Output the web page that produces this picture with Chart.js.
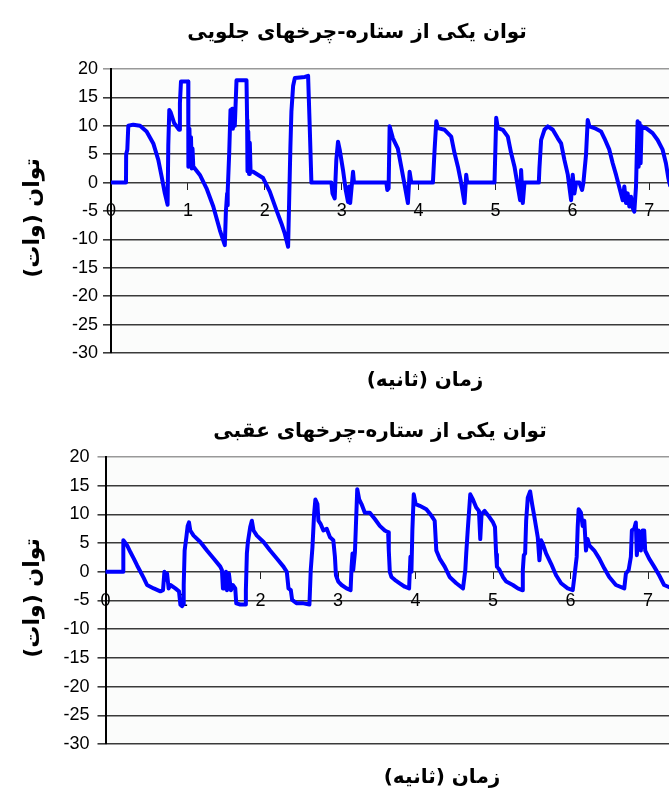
<!DOCTYPE html>
<html><head><meta charset="utf-8">
<script src="https://cdn.jsdelivr.net/npm/chart.js@4.4.1/dist/chart.umd.min.js"></script>
<style>
html,body{margin:0;padding:0;background:#fff;overflow:hidden;}
#wrap{position:relative;width:669px;height:792px;}
canvas{position:absolute;left:0;}
</style></head><body>
<div id="wrap">
<canvas id="c1" width="669" height="396" style="top:0"></canvas>
<canvas id="c2" width="669" height="396" style="top:396px"></canvas>
</div>
<script>
// ---- data ----
const xTicks = [0, 1, 2, 3, 4, 5, 6, 7];
const yTicks = [20, 15, 10, 5, 0, -5, -10, -15, -20, -25, -30];

const titleFront = 'توان یکی از ستاره-چرخهای جلویی';
const titleRear = 'توان یکی از ستاره-چرخهای عقبی';
const yAxisTitle = 'توان (وات)';
const xAxisTitle = 'زمان (ثانیه)';

const frontTime = [0,0.195,0.197,0.212,0.225,0.29,0.377,0.463,0.55,0.615,
  0.658,0.70,0.736,0.745,0.758,0.775,0.82,0.885,0.896,0.91,
  1.004,1.006,1.02,1.03,1.04,1.05,1.06,1.07,1.09,1.156,
  1.242,1.33,1.416,1.48,1.494,1.51,1.515,1.52,1.537,1.554,
  1.565,1.575,1.585,1.60,1.61,1.632,1.762,1.77,1.775,1.785,
  1.795,1.805,1.815,1.848,1.978,2.065,2.15,2.216,2.26,2.303,
  2.316,2.333,2.346,2.368,2.39,2.52,2.563,2.584,2.606,
  2.866,2.88,2.909,2.93,2.952,2.974,3.017,3.052,3.082,3.095,3.11,3.147,3.16,
  3.58,3.593,3.61,3.623,3.666,3.73,3.774,3.818,3.861,3.883,3.905,
  4.186,4.208,4.23,4.251,4.338,4.424,4.467,4.511,4.554,4.597,4.619,4.632,
  4.987,5.009,5.03,5.095,5.16,5.203,5.247,5.29,5.32,5.333,5.355,5.377,
  5.563,5.571,5.593,5.636,5.68,5.745,5.81,5.853,5.896,5.94,5.983,6.004,6.026,6.048,
  6.09,6.126,6.143,6.177,6.199,6.221,6.286,6.372,6.416,6.48,
  6.524,6.567,6.619,6.654,6.675,6.697,6.719,6.74,6.762,6.784,
  6.805,6.827,6.848,6.861,6.874,6.887,6.9,6.913,6.957,7.043,
  7.108,7.173,7.216,7.247,7.27];
const frontPower = [0,0,5,5.8,10,10.2,10,9,6.9,4,
  1.1,-1.9,-3.9,6.6,12.8,12.4,10.5,9.3,14,17.8,
  17.8,2.8,9.5,3,8,2.5,6,2.8,2.5,1.35,
  -1,-4.2,-8.4,-11,-5.1,-1.9,-4,-1.5,5.2,12.8,
  10.5,13,9.5,12,10,18,18,11,2,9,
  1.5,7,2,1.9,0.8,-1.6,-4.8,-7.2,-9,-11.3,
  -3.6,6.4,12.5,17,18.4,18.6,18.8,9.9,0,
  0,-1.9,-2.8,4,7.2,5.8,2.2,-1.3,-3.4,-0.7,-3.6,1.9,0,
  0,-1.3,-1,9.9,7.8,6,2.8,-0.4,-3.6,1.9,0,
  0,5.8,10.8,9.6,9.3,8.1,5.2,2.8,-0.1,-3.6,1.4,0,
  0,11.4,9.6,9.3,8.1,5.2,2.8,-0.7,-3.1,2.2,-3.6,0,
  0,2.5,7.5,9.3,9.9,9.3,7.8,6.9,4,1.4,-3.1,1.4,-1.9,0,
  0,-1.3,0,4.9,11,9.9,9.6,9,7.8,5.8,
  3.4,1.4,-1.3,-3.1,-0.7,-3.6,-1.9,-4.2,-2.5,-4.5,
  -5.1,-0.7,10.8,2.8,10.5,3.4,9.9,9.6,9.6,8.7,
  7.5,5.8,3.4,0.8,-0.5];

const rearTime = [0,0.227,0.23,0.279,0.322,0.365,0.408,0.451,0.494,0.536,
  0.622,0.708,0.742,0.76,0.777,0.794,0.815,0.837,0.901,0.948,
  0.966,0.987,1.0,1.009,1.021,1.043,1.06,1.077,1.094,1.137,
  1.223,1.309,1.395,1.481,1.502,1.515,1.532,1.554,1.567,1.592,
  1.618,1.644,1.674,1.687,1.738,1.803,1.811,1.824,1.837,1.867,
  1.888,1.91,1.953,2.039,2.124,2.21,2.296,2.339,2.361,2.391,
  2.408,2.468,2.554,2.631,2.648,2.67,2.691,2.708,2.734,2.747,
  2.777,2.811,2.854,2.897,
  2.939,2.96,2.973,3.003,3.046,3.11,3.162,3.175,3.187,3.196,
  3.218,3.23,3.248,3.273,3.303,3.346,3.41,3.475,3.539,3.603,
  3.646,3.655,3.668,3.689,3.732,3.796,3.861,3.917,3.934,3.947,
  3.959,3.977,4.002,4.054,4.139,4.204,4.247,4.268,4.311,4.376,
  4.44,4.526,4.612,4.642,4.654,4.676,4.706,4.74,4.783,4.818,
  4.835,4.852,4.891,4.955,5.0,5.025,5.04,5.05,
  5.084,5.127,5.17,5.255,5.32,5.375,5.384,5.397,5.414,5.427,
  5.448,5.478,5.504,5.534,5.577,5.598,5.62,5.641,5.684,5.749,
  5.813,5.878,5.963,6.028,6.049,6.079,6.092,6.104,6.134,6.156,
  6.177,6.199,6.22,6.242,6.306,6.371,6.435,6.499,6.585,6.693,
  6.714,6.749,6.778,6.791,6.821,6.842,6.855,6.877,6.907,6.928,
  6.95,6.963,7.014,7.078,7.143,7.207,7.259,7.28];
const rearPower = [0,0,5.5,4.6,3.4,2.3,1.1,0,-1.1,-2.3,
  -2.9,-3.4,-3.2,0,-1.4,-0.3,-2.9,-2.3,-2.9,-3.4,
  -5.7,-6,-5.7,-2.3,3.7,6,8,8.6,7.2,6.3,
  5.2,3.7,2.3,0.9,0.3,-2.9,-2.9,0,-3.2,-0.3,
  -3.2,-2.3,-2.9,-5.5,-5.7,-5.7,-3.2,3.2,5.2,7.8,
  8.9,7.2,6.3,5.2,3.7,2.3,0.9,0,-2.9,-3.2,
  -4.9,-5.5,-5.5,-5.7,0.3,4.3,10,12.6,11.8,8.9,
  8.3,7.2,7.5,6,
  5.5,2.6,-0.6,-1.7,-2.3,-2.9,-3.2,0.9,3.2,0.3,
  3.4,7.8,14.4,12.6,11.8,10.3,10.3,9.2,8,7.2,
  6.9,3.7,0,-0.9,-1.4,-2,-2.6,-2.9,2.6,0,
  7.2,13.5,11.8,11.5,10.9,9.8,8.9,3.7,2.3,0.9,
  -0.9,-2,-2.9,0.3,3.2,7.8,13.5,12.6,11.2,10.6,
  5.7,10.1,10.6,9.5,8.6,7.8,3,0.9,
  0.3,-0.9,-1.7,-2.3,-2.9,-3.2,0.3,2.9,3.2,8.9,
  12.9,14,11.8,9.5,6,2,5.5,4.9,3.2,1.4,
  -0.6,-2,-2.9,-3.2,-0.9,2.6,7.8,10.9,10.3,8,
  8.9,3.7,5.7,4.6,3.7,2.3,0.6,-0.9,-2.3,-2.9,
  -0.3,0.3,2.6,7.2,7.5,8.6,2.9,7.2,3.7,7.2,
  7.2,3.7,2.3,0.9,-0.6,-2.3,-2.6,-2.7];

// ---- helpers ----
const TICK_FONT = { family: 'Liberation Sans, Arial, sans-serif', size: 18 };

function textPlugin(items) {
  return {
    id: 'persianTexts',
    afterDraw(chart) {
      const ctx = chart.ctx;
      items.forEach(it => {
        ctx.save();
        ctx.font = it.font;
        ctx.fillStyle = '#000';
        ctx.direction = 'rtl';
        ctx.textAlign = 'center';
        ctx.textBaseline = 'middle';
        ctx.translate(it.x, it.y);
        if (it.rot) ctx.rotate(it.rot);
        ctx.fillText(it.text, 0, 0);
        ctx.restore();
      });
    }
  };
}

const bgPlugin = {
  id: 'plotBg',
  beforeDraw(chart) {
    const a = chart.chartArea, ctx = chart.ctx;
    ctx.save();
    ctx.fillStyle = '#fbfcfb';
    ctx.fillRect(a.left, a.top, a.right - a.left, a.bottom - a.top);
    ctx.restore();
  }
};

function makeChart(id, times, powers, cfg) {
  const pts = times.map((t, i) => ({ x: t, y: powers[i] }));
  return new Chart(document.getElementById(id), {
    type: 'line',
    data: { datasets: [{ data: pts, borderColor: '#0000ff', borderWidth: 4,
      pointRadius: 0, tension: 0, fill: false, borderJoinStyle: 'round', borderCapStyle: 'round' }] },
    options: {
      responsive: false, animation: false, events: [],
      layout: { padding: { top: cfg.top, bottom: cfg.bottom, left: 0, right: 0 } },
      plugins: { legend: { display: false }, title: { display: false }, tooltip: { enabled: false } },
      scales: {
        x: {
          type: 'linear', min: 0, max: cfg.xMax, position: { y: 0 },
          afterBuildTicks: s => { s.ticks = xTicks.map(v => ({ value: v })); },
          ticks: { font: TICK_FONT, color: '#000', padding: 11, autoSkip: false, maxRotation: 0 },
          grid: { drawOnChartArea: false, drawTicks: true, tickLength: 7, color: '#222', lineWidth: 1 },
          border: { display: false }
        },
        y: {
          type: 'linear', min: -30, max: 20,
          afterBuildTicks: s => { s.ticks = yTicks.map(v => ({ value: v })); },
          afterFit: s => { s.width = cfg.left; },
          ticks: { font: TICK_FONT, color: '#000', padding: cfg.tickPad },
          grid: { color: c => (c.tick && c.tick.value === 20) ? '#999999' : '#3a3a3a', lineWidth: 1.6, tickLength: 8 },
          border: { color: '#000', width: 2 }
        }
      }
    },
    plugins: [bgPlugin, textPlugin(cfg.texts)]
  });
}

const TITLE_FONT = 'bold 20px "DejaVu Sans", sans-serif';
const AXIS_FONT = 'bold 20px "DejaVu Sans", sans-serif';
const YAXIS_FONT = 'bold 22px "DejaVu Sans", sans-serif';

makeChart('c1', frontTime, frontPower, {
  top: 69, bottom: 43, left: 111, xMax: 7.256, tickPad: 5,
  texts: [
    { text: titleFront, x: 357, y: 33, font: TITLE_FONT },
    { text: yAxisTitle, x: 33, y: 218, font: YAXIS_FONT, rot: -Math.PI / 2 },
    { text: xAxisTitle, x: 425, y: 381, font: AXIS_FONT }
  ]
});
makeChart('c2', rearTime, rearPower, {
  top: 61, bottom: 48, left: 105.5, xMax: 7.27, tickPad: 8,
  texts: [
    { text: titleRear, x: 380, y: 36, font: TITLE_FONT },
    { text: yAxisTitle, x: 33, y: 202, font: YAXIS_FONT, rot: -Math.PI / 2 },
    { text: xAxisTitle, x: 442, y: 382, font: AXIS_FONT }
  ]
});
</script>
</body></html>
